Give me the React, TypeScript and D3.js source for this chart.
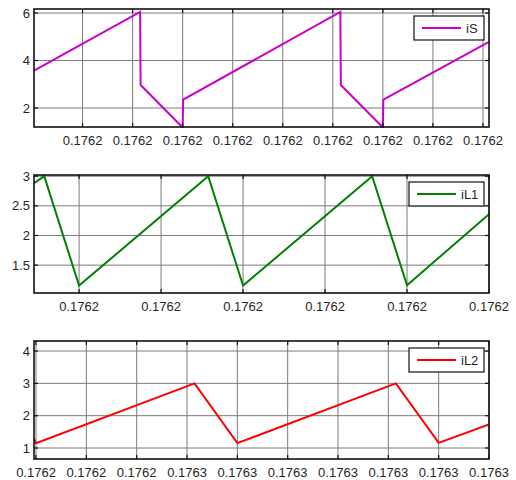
import React from "react";
import * as d3 from "d3";

// ---- data (time in seconds) ----
const topTicks = [0.1762, 0.176202, 0.176204, 0.176206, 0.176208, 0.17621, 0.176212, 0.176214, 0.176216];
const topDomainX = [0.17619806, 0.17621624];
const topDomainY = [1.2, 6.17];
const topYTicks = [2, 4, 6];
const iS_t = [0.17619806, 0.1762023, 0.17620232, 0.176204, 0.17620402, 0.1762103, 0.17621032, 0.176212, 0.17621202, 0.17621624];
const iS_v = [3.57, 6.05, 2.97, 1.18, 2.35, 6.05, 2.97, 1.18, 2.35, 4.79];

const midTicks = [0.1762, 0.176204, 0.176208, 0.176212, 0.176216, 0.17622];
const midDomainX = [0.1761978, 0.17622];
const midDomainY = [1.03, 3.02];
const midYTicks = [1.5, 2, 2.5, 3];
const iL1_t = [0.1761978, 0.1761983, 0.1762, 0.1762063, 0.176208, 0.1762143, 0.176216, 0.17622];
const iL1_v = [2.88, 3.0, 1.155, 3.0, 1.155, 3.0, 1.16, 2.36];

const botTicks = [0.176245, 0.176247, 0.176249, 0.176251, 0.176253, 0.176255, 0.176257, 0.176259, 0.176261, 0.176263];
const botDomainX = [0.17624492, 0.176263];
const botDomainY = [0.66, 4.31];
const botYTicks = [1, 2, 3, 4];
const iL2_t = [0.17624492, 0.176245, 0.1762513, 0.176253, 0.1762593, 0.176261, 0.176263];
const iL2_v = [1.28, 1.15, 3.0, 1.15, 3.0, 1.16, 1.73];

const W = 516;
const H = 480;
const left = 34;
const right = 489;

type PanelProps = {
  top: number;
  height: number;
  xDomain: number[];
  yDomain: number[];
  xTicks: number[];
  yTicks: number[];
  t: number[];
  v: number[];
  color: string;
  name: string;
  legendW: number;
};

const fmtX = d3.format(".4f");
const fmtY = (d: number) => String(d);
const textColor = "#262626";

function Panel(p: PanelProps) {
  const x = d3.scaleLinear().domain(p.xDomain).range([left, right]);
  const y = d3.scaleLinear().domain(p.yDomain).range([p.top + p.height, p.top]);
  const pts: [number, number][] = p.t.map((tt, i) => [tt, p.v[i]]);
  const line = d3
    .line<[number, number]>()
    .x((d) => x(d[0]))
    .y((d) => y(d[1]));
  const bottom = p.top + p.height;
  const clipId = "clip-" + p.name;
  const lx = right - 5 - p.legendW;
  const ly = p.top + 7;
  return (
    <g>
      <defs>
        <clipPath id={clipId}>
          <rect x={left} y={p.top - 1} width={right - left} height={p.height + 2} />
        </clipPath>
      </defs>
      <rect x={left} y={p.top} width={right - left} height={p.height} fill="#fff" />
      {p.xTicks.map((tk, i) => (
        <line key={"gx" + i} x1={x(tk)} x2={x(tk)} y1={p.top} y2={bottom} stroke="#7a7a7a" strokeWidth={1} />
      ))}
      {p.yTicks.map((tk, i) => (
        <line key={"gy" + i} x1={left} x2={right} y1={y(tk)} y2={y(tk)} stroke="#7a7a7a" strokeWidth={1} />
      ))}
      <path d={line(pts) || ""} fill="none" stroke={p.color} strokeWidth={2} clipPath={`url(#${clipId})`} strokeLinejoin="miter" />
      <rect x={left} y={p.top} width={right - left} height={p.height} fill="none" stroke="#111" strokeWidth={1.6} />
      {p.xTicks.map((tk, i) => (
        <g key={"tx" + i}>
          <line x1={x(tk)} x2={x(tk)} y1={bottom} y2={bottom - 4} stroke="#111" strokeWidth={1.2} />
          <line x1={x(tk)} x2={x(tk)} y1={p.top} y2={p.top + 4} stroke="#111" strokeWidth={1.2} />
          <text x={x(tk)} y={bottom + 18} textAnchor="middle" fontSize={13} fill={textColor} fontFamily="Liberation Sans, Arial, sans-serif">
            {fmtX(tk)}
          </text>
        </g>
      ))}
      {p.yTicks.map((tk, i) => (
        <g key={"ty" + i}>
          <line x1={left} x2={left + 4} y1={y(tk)} y2={y(tk)} stroke="#111" strokeWidth={1.2} />
          <line x1={right} x2={right - 4} y1={y(tk)} y2={y(tk)} stroke="#111" strokeWidth={1.2} />
          <text x={30} y={y(tk) + 4.5} textAnchor="end" fontSize={13} fill={textColor} fontFamily="Liberation Sans, Arial, sans-serif">
            {fmtY(tk)}
          </text>
        </g>
      ))}
      <rect x={lx} y={ly} width={p.legendW} height={24} fill="#fff" stroke="#111" strokeWidth={1.2} />
      <line x1={lx + 8} x2={lx + 47} y1={ly + 12} y2={ly + 12} stroke={p.color} strokeWidth={2} />
      <text x={lx + 52} y={ly + 17} fontSize={13} fill={textColor} fontFamily="Liberation Sans, Arial, sans-serif">
        {p.name}
      </text>
    </g>
  );
}

export default function App() {
  return (
    <svg width={W} height={H} style={{ position: "absolute", left: 0, top: 0, background: "#fff" }}>
      <rect x={0} y={0} width={W} height={H} fill="#fff" />
      <Panel top={9} height={118} xDomain={topDomainX} yDomain={topDomainY} xTicks={topTicks} yTicks={topYTicks}
        t={iS_t} v={iS_v} color="#c800c8" name="iS" legendW={70} />
      <Panel top={175} height={118} xDomain={midDomainX} yDomain={midDomainY} xTicks={midTicks} yTicks={midYTicks}
        t={iL1_t} v={iL1_v} color="#008000" name="iL1" legendW={75} />
      <Panel top={341} height={118} xDomain={botDomainX} yDomain={botDomainY} xTicks={botTicks} yTicks={botYTicks}
        t={iL2_t} v={iL2_v} color="#ff0000" name="iL2" legendW={75} />
    </svg>
  );
}
